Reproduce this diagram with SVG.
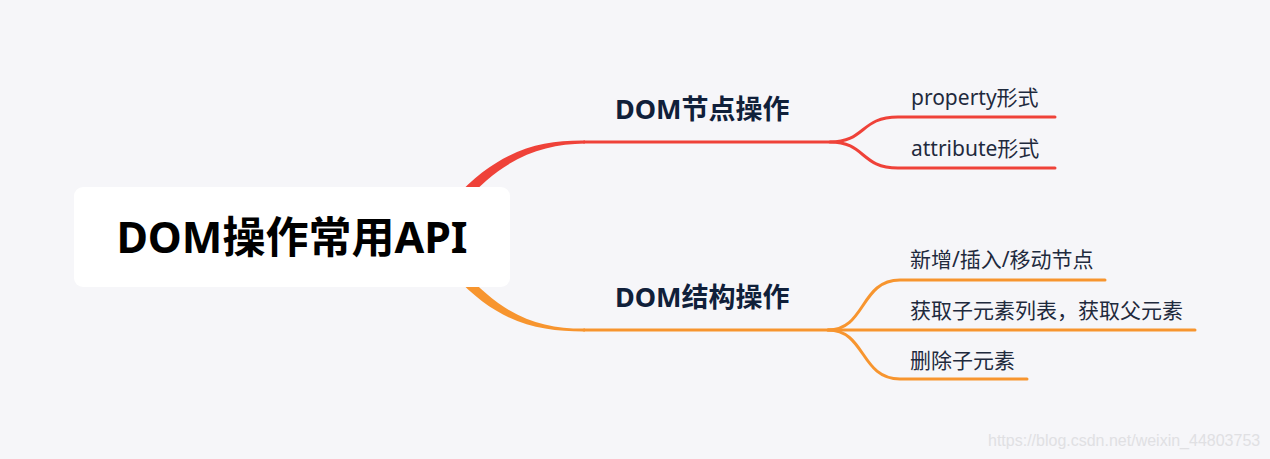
<svg xmlns="http://www.w3.org/2000/svg" width="1270" height="459" viewBox="0 0 1270 459">
<style>
.bg{fill:#f6f6f9}
.red{stroke:#ef4239;fill:none;stroke-width:3;stroke-linecap:round}
.org{stroke:#f7952f;fill:none;stroke-width:3;stroke-linecap:round}
.title{font-family:"Noto Sans","Noto Sans CJK SC",sans-serif;font-weight:700;font-size:43px;fill:#000}
.sub{font-family:"Noto Sans","Noto Sans CJK SC",sans-serif;font-weight:700;font-size:27px;fill:#10203a}
.leaf{font-family:"Noto Sans","Noto Sans CJK SC",sans-serif;font-size:21px;fill:#1f2a3d}
.wm{font-family:"Liberation Sans",Arial,sans-serif;font-size:16px;fill:#e0e0e3}
</style>
<rect class="bg" x="0" y="0" width="1270" height="459"/>
<g id="connectors">
<path d="M454,199 C498,150 540,140 585,140.6 L585,143.4 C542,144 504,157 462,205 Z" fill="#ef4239"/>
<path d="M454,275 C498,324 540,331.6 585,331.4 L585,328.6 C542,329 504,318 462,269 Z" fill="#f7952f"/>
<path class="red" d="M584,142 L830,142 C866,142 860,117 898,117 L1055,117"/>
<path class="red" d="M830,142 C866,142 860,168 898,168 L1055,168"/>
<path class="org" d="M584,330 L828,330 C866,330 860,280 900,280 L1105,280"/>
<path class="org" d="M828,330 L1195,330"/>
<path class="org" d="M828,330 C866,330 860,379 900,379 L1027,379"/>
</g>
<g id="root">
<rect x="74" y="187" width="436" height="100" rx="9" fill="#ffffff"/>
<text class="title" x="292" y="253" text-anchor="middle">DOM操作常用API</text>
</g>
<g id="n1"><text class="sub" x="615" y="119">DOM节点操作</text></g>
<g id="n2"><text class="sub" x="615" y="307">DOM结构操作</text></g>
<g id="l1"><text class="leaf" x="911" y="105">property形式</text></g>
<g id="l2"><text class="leaf" x="911" y="156">attribute形式</text></g>
<g id="l3"><text class="leaf" x="910" y="267">新增/插入/移动节点</text></g>
<g id="l4"><text class="leaf" x="910" y="318">获取子元素列表，获取父元素</text></g>
<g id="l5"><text class="leaf" x="910" y="368">删除子元素</text></g>
<text class="wm" x="988" y="446">https://blog.csdn.net/weixin_44803753</text>
</svg>
